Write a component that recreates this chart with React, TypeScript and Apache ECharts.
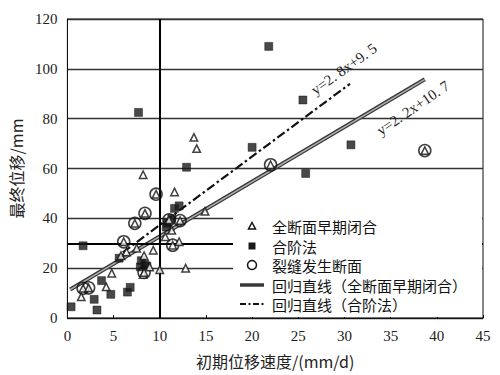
import React, { useEffect, useRef } from "react";
import * as echarts from "echarts";

// ---- data ----
const legendNames = [
  "全断面早期闭合",
  "合阶法",
  "裂缝发生断面",
  "回归直线（全断面早期闭合）",
  "回归直线（合阶法）",
];

// 全断面早期闭合 (hollow triangles)
const fullFaceClosure: [number, number][] = [
  [8.2, 57.5], [13.7, 72.5], [14.0, 68], [11.6, 50.6], [14.9, 42.8],
  [12.8, 20], [10.0, 19.4], [9.3, 27.2], [12.1, 30.6], [10.6, 32.6],
  [11.3, 35.2], [4.8, 18], [4.2, 12.5], [1.5, 8.5], [7.5, 28],
  [8.3, 25], [8.2, 17.5], [8.9, 20.5], [5.8, 25], [6.4, 26.5],
  // inside the crack circles
  [9.6, 49.7], [8.4, 42], [7.3, 38], [6.1, 30.6], [11.0, 39.4],
  [12.2, 39.1], [11.4, 29.2], [1.7, 11.9], [2.3, 12.1], [8.3, 18.3],
  [22.0, 61.5], [38.7, 67.2],
];

// 合阶法 (filled squares)
const benchMethod: [number, number][] = [
  [7.7, 82.5], [12.9, 60.5], [21.8, 109], [25.5, 87.5], [20.0, 68.5],
  [25.8, 58], [30.7, 69.5], [1.7, 29], [0.4, 4.5], [2.9, 7.5],
  [3.2, 3.2], [3.7, 15], [4.7, 9.5], [6.5, 10.4], [6.8, 12.3],
  [8.0, 23], [7.9, 20.5], [8.4, 21.5], [5.6, 24], [11.6, 44],
  [12.1, 45], [10.8, 38], [11.3, 40], [10.7, 36.5], [8.6, 20.8],
];

// 裂缝发生断面 (hollow circles)
const crackSections: [number, number][] = [
  [9.6, 49.7], [8.4, 42], [7.3, 38], [6.1, 30.6], [11.0, 39.4],
  [12.2, 39.1], [11.4, 29.2], [1.7, 11.9], [2.3, 12.1], [8.3, 18.3],
  [22.0, 61.5], [38.7, 67.2],
];

// regression line end points (as drawn)
const regressionFullFace: [number, number][] = [[0.3, 11.4], [38.7, 95.8]];
const regressionBench: [number, number][] = [[6.0, 26.3], [30.6, 94.0]];

const eqBench = "y=2. 8x+9. 5";
const eqFullFace = "y=2. 2x+10. 7";

const xAxisName = "初期位移速度/(mm/d)";
const yAxisName = "最终位移/mm";
const refX = 10;
const refY = 30;

const serif = "'Liberation Serif', 'DejaVu Serif', serif";
const cjk = "'Noto Sans CJK SC', 'Noto Sans', sans-serif";

function buildLegend() {
  const rows = [226, 246, 265, 285, 304];
  const sx = 252;
  const tx = 272;
  const els: any[] = [];
  els.push({
    type: "polygon", z: 20,
    shape: { points: [[sx, rows[0] - 3.5], [sx + 3.5, rows[0] + 3], [sx - 3.5, rows[0] + 3]] },
    style: { fill: "#fff", stroke: "#111", lineWidth: 1.5 },
  });
  els.push({
    type: "rect", z: 20,
    shape: { x: sx - 3.5, y: rows[1] - 3.5, width: 7, height: 7 },
    style: { fill: "#1a1a1a" },
  });
  els.push({
    type: "circle", z: 20,
    shape: { cx: sx, cy: rows[2], r: 4.5 },
    style: { fill: "#fff", stroke: "#111", lineWidth: 1.5 },
  });
  els.push({
    type: "line", z: 20,
    shape: { x1: 240, y1: rows[3], x2: 264, y2: rows[3] },
    style: { stroke: "#3a3a3a", lineWidth: 3.5 },
  });
  els.push({
    type: "line", z: 20,
    shape: { x1: 240, y1: rows[4], x2: 264, y2: rows[4] },
    style: { stroke: "#111", lineWidth: 2, lineDash: [6, 2.5, 2, 2.5] },
  });
  legendNames.forEach((n, i) => {
    els.push({
      type: "text", z: 20, x: tx, y: rows[i],
      style: { text: n, font: `15px ${cjk}`, fill: "#111", verticalAlign: "middle", align: "left" },
    });
  });
  return els;
}

export default function App() {
  const ref = useRef<HTMLDivElement>(null);
  useEffect(() => {
    if (!ref.current) return;
    const chart = echarts.init(ref.current, undefined, { renderer: "svg" });
    chart.setOption({
      animation: false,
      backgroundColor: "#fff",
      grid: {
        left: 57, right: 17, top: 19, bottom: 57,
        show: true, borderColor: "#111", borderWidth: 1,
      },
      xAxis: {
        type: "value", min: 0, max: 45, interval: 5,
        name: xAxisName, nameLocation: "middle", nameGap: 35,
        nameTextStyle: { fontFamily: cjk, fontSize: 16, color: "#222" },
        axisLine: { show: true, lineStyle: { color: "#111", width: 1 } },
        axisTick: { show: true, inside: true, length: 3, lineStyle: { color: "#111" } },
        axisLabel: { fontFamily: serif, fontSize: 15, color: "#222", margin: 10 },
        splitLine: { show: false },
      },
      yAxis: {
        type: "value", min: 0, max: 120, interval: 20,
        name: yAxisName, nameLocation: "middle", nameGap: 36,
        nameTextStyle: { fontFamily: cjk, fontSize: 16, color: "#222" },
        axisLine: { show: true, lineStyle: { color: "#111", width: 1 } },
        axisTick: { show: false },
        axisLabel: { fontFamily: serif, fontSize: 15, color: "#222", margin: 10 },
        splitLine: { show: true, lineStyle: { color: "#333", width: 1.3 } },
      },
      graphic: [
        {
          type: "rect", z: 10,
          shape: { x: 233, y: 207, width: 249, height: 110 },
          style: { fill: "#fff" }, silent: true,
        },
        {
          type: "text", z: 20, x: 344, y: 69, rotation: 0.62,
          style: { text: eqBench, font: `15px ${serif}`, fill: "#222", align: "center", verticalAlign: "middle" },
        },
        {
          type: "text", z: 20, x: 413, y: 108, rotation: 0.6,
          style: { text: eqFullFace, font: `15px ${serif}`, fill: "#222", align: "center", verticalAlign: "middle" },
        },
        ...buildLegend(),
      ],
      series: [
        {
          name: legendNames[3], type: "line", data: regressionFullFace,
          symbol: "none", itemStyle: { color: "#3a3a3a" },
          lineStyle: { color: "#3a3a3a", width: 4 }, z: 2,
        },
        {
          name: "_inner", type: "line", data: regressionFullFace,
          symbol: "none", itemStyle: { color: "#b0b0b0" },
          lineStyle: { color: "#b0b0b0", width: 1.4 }, z: 2,
        },
        {
          name: legendNames[4], type: "line", data: regressionBench,
          symbol: "none", itemStyle: { color: "#111" },
          lineStyle: { color: "#111", width: 2.2, type: [9, 3, 2.5, 3] }, z: 2,
        },
        {
          name: legendNames[1], type: "scatter", data: benchMethod,
          symbol: "rect", symbolSize: 8,
          itemStyle: { color: "#1a1a1a", borderColor: "#000", borderWidth: 0.5 }, z: 4,
          markLine: {
            silent: true, symbol: "none", animation: false, z: 3,
            label: { show: false },
            lineStyle: { color: "#000", width: 2, type: "solid" },
            data: [{ xAxis: refX }, { yAxis: refY }],
          },
        },
        {
          name: legendNames[2], type: "scatter", data: crackSections,
          symbol: "circle", symbolSize: 12,
          itemStyle: { color: "rgba(255,255,255,0)", borderColor: "#111", borderWidth: 1.6 }, z: 4,
        },
        {
          name: legendNames[0], type: "scatter", data: fullFaceClosure,
          symbol: "triangle", symbolSize: 7.5,
          itemStyle: { color: "#fff", borderColor: "#111", borderWidth: 1.5 }, z: 4,
        },
      ],
    });
    return () => chart.dispose();
  }, []);
  return (
    <div
      ref={ref}
      style={{ position: "fixed", left: 0, top: 0, width: 500, height: 375, background: "#fff" }}
    />
  );
}
